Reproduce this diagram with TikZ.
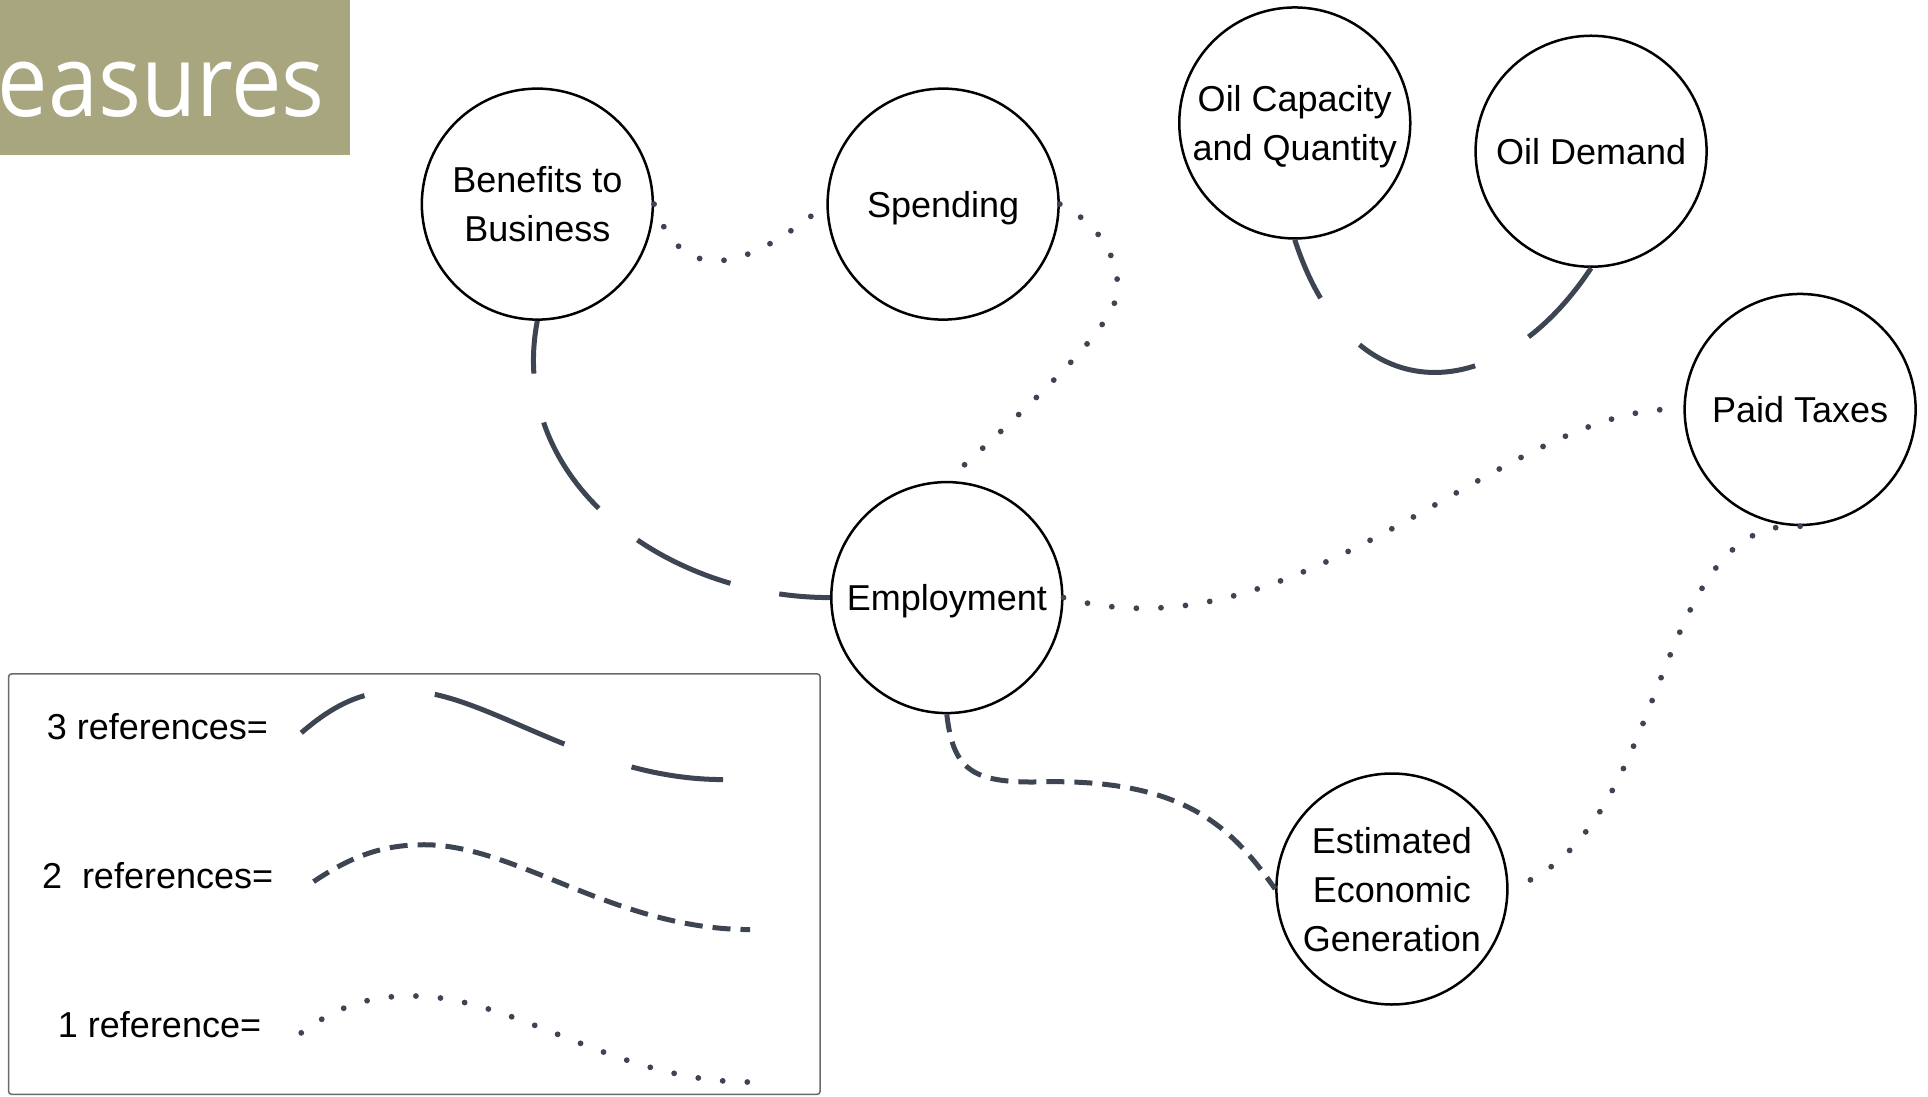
\documentclass[tikz,border=0pt]{standalone}
\usepackage{fontspec}
\setmainfont{Liberation Sans}
\newfontfamily\titlefont{Open Sans}
\definecolor{olive}{HTML}{A8A67E}
\definecolor{conn}{HTML}{3D4452}
\definecolor{legframe}{HTML}{6A6A6A}
\begin{document}
\begin{tikzpicture}[x=1.2296pt,y=-1.2296pt,
  circ/.style={circle, draw=black, line width=2.5pt, minimum size=231pt, inner sep=0pt, align=center, text depth=0pt, font=\fontsize{36}{49}\selectfont},
  legtext/.style={anchor=west, inner sep=0pt, font=\fontsize{36}{40}\selectfont},
  threeref/.style={draw=conn, line width=5pt},
  tworef/.style={draw=conn, line width=5pt, dash pattern=on 18pt off 10pt},
  oneref/.style={draw=conn, line width=5.8pt, line cap=round, dash pattern=on 0pt off 24.6pt}]
\useasboundingbox (0,0) rectangle (1568,891.4);
% title
\fill[olive] (0,0) rectangle (285,126);
\node[anchor=base west, text=white, inner sep=0pt, font=\titlefont\fontsize{100}{100}\selectfont] (title) at (-2,95) {\scalebox{0.9}[1]{easures}};
% nodes
\node[circ] (ben) at (437,166) {Benefits to\\Business};
\node[circ] (spe) at (767,166) {Spending};
\node[circ] (cap) at (1053,100) {Oil Capacity\\and Quantity};
\node[circ] (dem) at (1294,123) {Oil Demand};
\node[circ] (tax) at (1464,333) {Paid Taxes};
\node[circ] (emp) at (770,486) {Employment};
\node[circ] (est) at (1132,723) {Estimated\\Economic\\Generation};
% connectors
\draw[threeref, dash pattern=on 103pt off 50pt, dash phase=50pt] (ben.south) .. controls (412,390) and (540,486) .. (emp.west);
\draw[threeref, dash pattern=on 123pt off 61pt, dash phase=59pt] (cap.south) .. controls (1100,340) and (1220,330) .. (dem.south);
\draw[oneref] (ben.east) .. controls (560,250) and (630,200) .. (spe.west);
\draw[oneref] (spe.east) .. controls (890,180) and (909,205) .. (909,235) .. controls (909,260) and (860,310) .. (emp.north);
\draw[oneref] (emp.east) .. controls (1060,540) and (1230,325) .. (tax.west);
\draw[oneref] (tax.south) .. controls (1340,420) and (1360,680) .. (est.east);
\draw[tworef] (emp.south) .. controls (775,625) and (790,636) .. (840,636) .. controls (960,632) and (1000,670) .. (est.west);
% legend
\draw[legframe, line width=1.5pt, rounded corners=3pt] (7,548) rectangle (667,890);
\node[legtext] (l3) at (38,591) {3 references=};
\node[legtext] (l2) at (34,712) {2\ \ references=};
\node[legtext] (l1) at (47,833) {1 reference=};
\coordinate (a3) at (245,596); \coordinate (b3) at (588,634);
\coordinate (a2) at (255,717); \coordinate (b2) at (610,756);
\coordinate (a1) at (245,840); \coordinate (b1) at (610,880);
\draw[threeref, dash pattern=on 139pt off 71pt, dash phase=65pt] (a3) .. controls (275,570) and (300,560) .. (335,562) .. controls (400,566) and (480,634) .. (b3);
\draw[tworef] (a2) .. controls (285,697) and (310,687) .. (345,687) .. controls (420,687) and (500,756) .. (b2);
\draw[oneref] (a1) .. controls (275,818) and (300,810) .. (335,810) .. controls (420,810) and (500,880) .. (b1);
\end{tikzpicture}
\end{document}
